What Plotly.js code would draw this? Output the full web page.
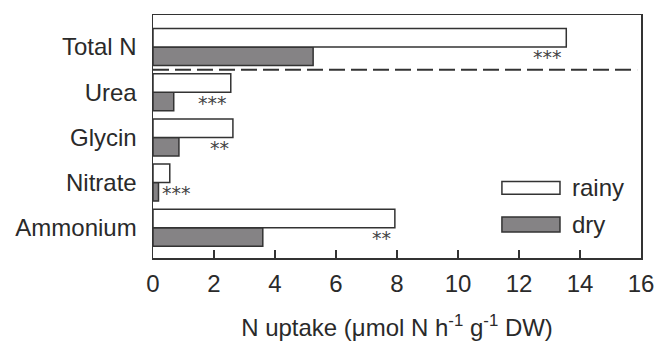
<!DOCTYPE html>
<html>
<head>
<meta charset="utf-8">
<script src="https://cdn.plot.ly/plotly-3.0.1.min.js"></script>
<style>html,body{margin:0;padding:0;background:#fff;}#chart{width:656px;height:341px;}</style>
</head>
<body>
<div id="chart"></div>
<script>
const categories = ["Ammonium", "Nitrate", "Glycin", "Urea", "Total N"];
const rainy = [7.93, 0.55, 2.62, 2.55, 13.55];
const dry = [3.6, 0.18, 0.85, 0.68, 5.25];
const significance = ["**", "***", "**", "***", "***"];
const seriesNames = ["rainy", "dry"];
const xTicks = [0, 2, 4, 6, 8, 10, 12, 14, 16];

const font = "Liberation Sans, Arial, sans-serif";
const starFont = "DejaVu Sans, sans-serif";
const textColor = "#2a2a2a";
const outline = "#333333";
const grayFill = "#858385";

const yIdx = categories.map((c, i) => i);

const traces = [
  {type: "bar", orientation: "h", name: seriesNames[1], y: yIdx, x: dry,
   marker: {color: grayFill, line: {color: outline, width: 1.5}}, showlegend: false, hoverinfo: "x"},
  {type: "bar", orientation: "h", name: seriesNames[0], y: yIdx, x: rainy,
   marker: {color: "#ffffff", line: {color: outline, width: 1.5}}, showlegend: false, hoverinfo: "x"}
];

const groupFrac = 0.82;
const barH = groupFrac / 2;
const annotations = categories.map((c, i) => {
  const isNitrate = c === "Nitrate";
  return {
    x: isNitrate ? dry[i] : rainy[i], y: i - barH / 2, xref: "x", yref: "y",
    text: significance[i], showarrow: false,
    xanchor: isNitrate ? "left" : "right", yanchor: "middle",
    xshift: isNitrate ? 2 : -2, yshift: -1,
    font: {family: starFont, size: 19, color: "#444444"}
  };
});

// Custom legend
const legendBoxes = [
  {name: seriesNames[0], fill: "#ffffff", y0: 0.262, y1: 0.315},
  {name: seriesNames[1], fill: grayFill, y0: 0.107, y1: 0.169}
];
const shapes = [
  {type: "line", xref: "paper", yref: "y", x0: 0, x1: 0.992, y0: 3.5, y1: 3.5,
   line: {color: outline, width: 2, dash: "16px,6px"}}
];
legendBoxes.forEach(b => {
  shapes.push({type: "rect", xref: "paper", yref: "paper", x0: 0.715, x1: 0.834, y0: b.y0, y1: b.y1,
    fillcolor: b.fill, line: {color: outline, width: 1.5}});
  annotations.push({xref: "paper", yref: "paper", x: 0.855, y: (b.y0 + b.y1) / 2, text: b.name,
    showarrow: false, xanchor: "left", yanchor: "middle",
    font: {family: font, size: 24, color: textColor}});
});

const layout = {
  width: 656, height: 341,
  margin: {l: 153, r: 15, t: 15, b: 83},
  paper_bgcolor: "#ffffff", plot_bgcolor: "#ffffff",
  barmode: "group", bargap: 1 - groupFrac, bargroupgap: 0,
  showlegend: false,
  font: {family: font, color: textColor},
  xaxis: {
    range: [0, 16], tickvals: xTicks, ticktext: xTicks.map(String),
    ticks: "inside", ticklen: 8, tickwidth: 1.3, tickcolor: outline,
    showline: true, linecolor: outline, linewidth: 1.5, mirror: true,
    showgrid: false, zeroline: false,
    ticklabelstandoff: 4,
    tickfont: {family: font, size: 24, color: textColor},
    title: {text: "N uptake (μmol N h<sup>-1</sup> g<sup>-1</sup> DW)", standoff: 26,
            font: {family: font, size: 24, color: textColor}}
  },
  yaxis: {
    range: [-0.67, 4.71], tickvals: yIdx, ticktext: categories,
    ticks: "", showline: true, linecolor: outline, linewidth: 1.5, mirror: true,
    showgrid: false, zeroline: false,
    ticklabelstandoff: 10,
    tickfont: {family: font, size: 24, color: textColor}
  },
  shapes: shapes,
  annotations: annotations
};

Plotly.newPlot("chart", traces, layout, {displayModeBar: false, staticPlot: true});
</script>
</body>
</html>
